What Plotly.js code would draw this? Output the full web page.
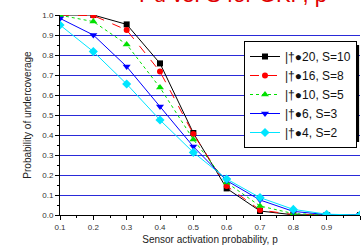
<!DOCTYPE html>
<html>
<head>
<meta charset="utf-8">
<script src="https://cdn.plot.ly/plotly-3.0.1.min.js"></script>
<style>html,body{margin:0;padding:0;background:#fff;overflow:hidden}#chart{width:361px;height:245px}</style>
</head>
<body>
<div id="chart"></div>
<script>
var pValues = [0.1, 0.2, 0.3, 0.4, 0.5, 0.6, 0.7, 0.8, 0.9, 1.0];
var seriesNames = ["|\u2020\u25CF20, S=10", "|\u2020\u25CF16, S=8", "|\u2020\u25CF10, S=5", "|\u2020\u25CF6, S=3", "|\u2020\u25CF4, S=2"];
var s10 = [1.000, 1.000, 0.953, 0.758, 0.410, 0.133, 0.020, 0.001, 0.000, 0.000];
var s8  = [1.000, 0.997, 0.925, 0.717, 0.405, 0.145, 0.025, 0.002, 0.000, 0.000];
var s5  = [0.999, 0.967, 0.853, 0.637, 0.378, 0.162, 0.045, 0.007, 0.001, 0.000];
var s3  = [0.983, 0.900, 0.742, 0.542, 0.342, 0.172, 0.075, 0.018, 0.002, 0.000];
var s2  = [0.950, 0.817, 0.655, 0.475, 0.313, 0.180, 0.087, 0.028, 0.004, 0.000];
var titleText = "Pu vs. S for GKP, p";
var xTitle = "Sensor activation probability, p";
var yTitle = "Probability of undercoverage";

var styles = [
  {color: "#000000", dash: "solid", symbol: "square", size: 6},
  {color: "#ff0000", dash: "dash", symbol: "circle", size: 6},
  {color: "#00e000", dash: "dot", symbol: "triangle-up", size: 7},
  {color: "#0000ff", dash: "solid", symbol: "triangle-down", size: 7},
  {color: "#00e5ff", dash: "solid", symbol: "diamond", size: 7}
];
var allSeries = [s10, s8, s5, s3, s2];
var traces = allSeries.map(function (ys, i) {
  var st = styles[i];
  return {
    x: pValues, y: ys, name: seriesNames[i], type: "scatter", mode: "lines+markers",
    line: {color: st.color, width: 1, dash: st.dash},
    marker: {color: st.color, symbol: st.symbol, size: st.size}
  };
});

var layout = {
  width: 361, height: 245,
  margin: {l: 60, r: 1, t: 15, b: 30, pad: 0},
  paper_bgcolor: "#fff", plot_bgcolor: "#fff",
  font: {family: "Arial, Liberation Sans, sans-serif", size: 8, color: "#333"},
  showlegend: true,
  legend: {x: 0.99, y: 0.87, xanchor: "right", yanchor: "top", bgcolor: "#fff",
           bordercolor: "#000", borderwidth: 1, font: {size: 12, color: "#111"}},
  xaxis: {range: [0.1, 1.0], dtick: 0.1, tick0: 0.1, tickformat: ".1f", showgrid: false, zeroline: false,
          showline: true, linecolor: "#000", linewidth: 1, ticks: "outside", ticklen: 4, tickcolor: "#000",
          minor: {ticks: "outside", dtick: 0.05, ticklen: 2, tickcolor: "#000"},
          title: {text: xTitle, font: {size: 10, color: "#222"}, standoff: 6}},
  yaxis: {range: [0, 1.0], dtick: 0.1, tickformat: ".1f", showgrid: true, gridcolor: "#2a2ad8", gridwidth: 1,
          zeroline: false, showline: true, linecolor: "#000", linewidth: 1, ticks: "outside", ticklen: 4,
          tickcolor: "#000", minor: {ticks: "outside", dtick: 0.05, ticklen: 2, tickcolor: "#000"},
          title: {text: yTitle, font: {size: 10, color: "#222"}, standoff: 8}},
  annotations: [{text: titleText, xref: "paper", yref: "paper", x: 0.577, y: 1, xanchor: "center",
                 yanchor: "bottom", yshift: 5.5, showarrow: false,
                 font: {size: 22, color: "#e00000", family: "Arial, Liberation Sans, sans-serif"}}],
  shapes: [{type: "rect", xref: "paper", yref: "paper", x0: 0.66, x1: 0.997, y0: 0.365, y1: 0.85,
            fillcolor: "#000", line: {width: 0}, layer: "above"}]
};

Plotly.newPlot("chart", traces, layout, {displayModeBar: false, staticPlot: true});
</script>
</body>
</html>
